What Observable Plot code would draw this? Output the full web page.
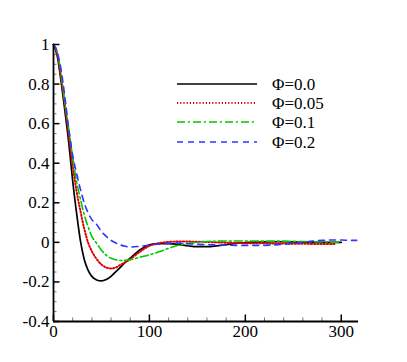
<!DOCTYPE html>
<html>
<head>
<meta charset="utf-8">
<script src="https://cdn.jsdelivr.net/npm/d3@7"></script>
<script src="https://cdn.jsdelivr.net/npm/@observablehq/plot@0.6"></script>
<style>
  html, body { margin: 0; padding: 0; background: #fff; }
  #wrap { position: relative; width: 407px; height: 362px; font-family: 'Liberation Serif'; }
  #legend { position: absolute; left: 0; top: 0; pointer-events: none; }
</style>
</head>
<body>
<div id="wrap"><div id="chart"></div><svg id="legend" width="407" height="362" font-family="Liberation Serif"></svg></div>
<script>
// ---- data ----
const xs = [0,4,8,12,16,20,24,28,32,36,40,45,50,55,60,65,70,75,80,90,100,110,120,130,140,150,160,170,180,190,200,210,220,230,240,250,260,270,280,290,295,300,310,316];
const phi00 = [1,0.94,0.81,0.66,0.5,0.31,0.15,0.01,-0.085,-0.14,-0.172,-0.19,-0.195,-0.188,-0.172,-0.148,-0.125,-0.1,-0.08,-0.038,-0.013,-0.006,-0.006,-0.01,-0.017,-0.022,-0.022,-0.018,-0.012,-0.005,-0.001,0.001,0.002,0.003,0.003,0.002,0.001,0,0,0,0,0,null,null];
const phi005 = [1,0.95,0.83,0.69,0.54,0.39,0.26,0.16,0.07,0.0,-0.045,-0.085,-0.112,-0.127,-0.132,-0.127,-0.113,-0.1,-0.085,-0.048,-0.018,-0.004,0.002,0.004,0.004,0.003,0.002,0,-0.002,-0.003,-0.004,-0.005,-0.005,-0.006,-0.006,-0.007,-0.007,-0.008,-0.008,-0.008,-0.008,null,null,null];
const phi01 = [1,0.96,0.85,0.7,0.57,0.43,0.31,0.22,0.14,0.08,0.03,-0.005,-0.04,-0.065,-0.08,-0.088,-0.092,-0.091,-0.088,-0.075,-0.063,-0.048,-0.03,-0.015,-0.005,0,0.004,0.006,0.007,0.007,0.007,0.007,0.006,0.006,0.006,0.005,0.004,0.003,0.002,0.001,0,0,null,null];
const phi02 = [1,0.96,0.87,0.73,0.57,0.44,0.35,0.27,0.2,0.15,0.115,0.09,0.055,0.03,0.01,-0.003,-0.013,-0.02,-0.024,-0.02,-0.014,-0.008,-0.005,-0.004,-0.007,-0.01,-0.012,-0.013,-0.014,-0.015,-0.015,-0.015,-0.015,-0.013,-0.01,-0.005,0,0.006,0.01,0.012,0.012,0.012,0.01,0.01];

const seriesNames = ["Φ=0.0", "Φ=0.05", "Φ=0.1", "Φ=0.2"];
const seriesValues = [phi00, phi005, phi01, phi02];
const seriesColors = ["#000000", "#e00000", "#00c800", "#3333ff"];
const seriesDash = [null, "1.2,2", "8,3,2,3", "6,5"];
const seriesWidth = [1.7, 2, 1.6, 1.6];

const xMajor = [0, 100, 200, 300];
const xMinor = [20,40,60,80,120,140,160,180,220,240,260,280];
const yMajor = [-0.4, -0.2, 0, 0.2, 0.4, 0.6, 0.8, 1];
const yMinor = [-0.35,-0.3,-0.25,-0.15,-0.1,-0.05,0.05,0.1,0.15,0.25,0.3,0.35,0.45,0.5,0.55,0.65,0.7,0.75,0.85,0.9,0.95];
const xDomain = [0, 318];
const yDomain = [-0.4, 1];

const FONT = "Liberation Serif";

// ---- build table ----
const rows = [];
seriesNames.forEach((name, s) => {
  xs.forEach((x, i) => {
    const v = seriesValues[s][i];
    if (v !== null) rows.push({series: name, x, y: v});
  });
});

const fmt = d => String(+d.toFixed(2));

const lineMarks = seriesNames.map((name, s) =>
  Plot.line(rows.filter(r => r.series === name), {
    x: "x", y: "y", curve: "monotone-x",
    stroke: seriesColors[s], strokeWidth: seriesWidth[s],
    strokeDasharray: seriesDash[s] || undefined
  })
);

const chart = Plot.plot({
  width: 407, height: 362,
  marginLeft: 53, marginRight: 49, marginTop: 44, marginBottom: 41,
  style: {fontFamily: FONT, fontSize: "17px", background: "#fff", color: "#000"},
  x: {domain: xDomain, label: null},
  y: {domain: yDomain, label: null},
  marks: [
    ...lineMarks,
    Plot.axisX(xMinor, {tickSize: -3.5, fill: "none", stroke: "#777", label: null}),
    Plot.axisX(xMajor, {tickSize: -6.5, fill: "none", strokeWidth: 1.5, label: null}),
    Plot.axisX(xMajor, {tickSize: 0, tickPadding: 3, tickFormat: fmt, label: null}),
    Plot.axisY(yMinor, {tickSize: -3.5, fill: "none", stroke: "#777", label: null}),
    Plot.axisY(yMajor, {tickSize: -6.5, fill: "none", strokeWidth: 1.5, label: null}),
    Plot.axisY(yMajor, {tickSize: 0, tickPadding: 4, tickFormat: fmt, label: null}),
    Plot.ruleX([xDomain[0]], {y1: yDomain[0], y2: yDomain[1], strokeWidth: 1.8}),
    Plot.ruleY([yDomain[0]], {x1: xDomain[0], x2: xDomain[1], strokeWidth: 1.8})
  ]
});
chart.setAttribute("font-family", FONT);
document.getElementById("chart").appendChild(chart);

// ---- legend ----
const leg = d3.select("#legend");
const rowY = [84, 103, 122, 142];
seriesNames.forEach((name, s) => {
  leg.append("line")
    .attr("x1", 177).attr("x2", 257).attr("y1", rowY[s]).attr("y2", rowY[s])
    .attr("stroke", seriesColors[s]).attr("stroke-width", seriesWidth[s])
    .attr("stroke-dasharray", seriesDash[s]);
  leg.append("text")
    .attr("x", 272).attr("y", rowY[s]).attr("dy", "0.35em")
    .attr("font-family", FONT)
    .attr("font-size", 17).attr("fill", "#000")
    .text(name);
});
</script>
</body>
</html>
